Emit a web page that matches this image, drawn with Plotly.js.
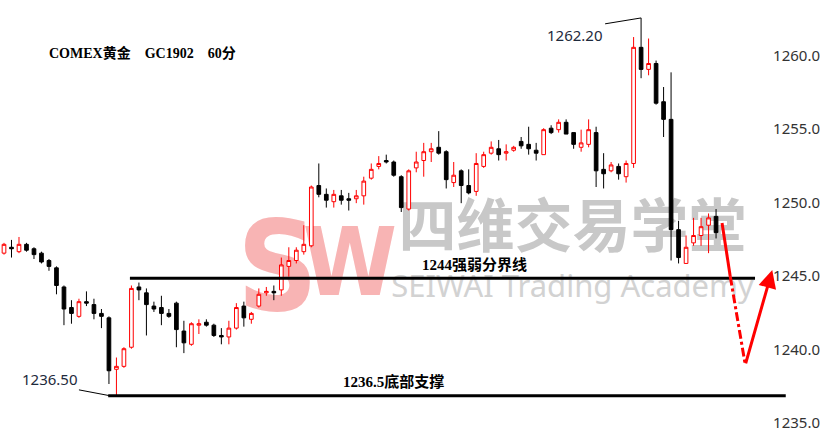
<!DOCTYPE html>
<html>
<head>
<meta charset="utf-8">
<script src="https://cdn.plot.ly/plotly-3.0.1.min.js"></script>
<style>html,body{margin:0;padding:0;background:#fff;}#chart{width:826px;height:435px;}</style>
</head>
<body>
<div id="chart"></div>
<script>
// COMEX gold GC1902, 60-minute candles
const opens = [1246.2,1246.6,1246.3,1246.8,1246.5,1246.2,1245.7,1245.2,1243.9,1242.5,
1241.9,1242.9,1242.7,1242.1,1241.8,1238.3,1238.5,1239.8,1243.9,1243.5,
1242.6,1242.5,1242.1,1242.8,1240.9,1240.0,1241.3,1241.5,1241.3,1240.6,
1240.5,1241.1,1242.6,1241.7,1242.6,1243.5,1243.6,1243.7,1245.3,1245.7,
1246.3,1246.7,1250.8,1250.2,1249.7,1250.1,1249.9,1249.9,1250.1,1251.3,
1252.1,1252.5,1252.4,1251.4,1249.2,1252.0,1252.5,1253.1,1253.4,1253.1,
1251.0,1251.8,1250.8,1250.4,1252.1,1253.0,1253.3,1253.0,1253.2,1253.8,
1253.6,1253.2,1252.9,1254.7,1254.6,1255.1,1254.4,1253.4,1253.6,1254.4,
1251.9,1251.8,1252.1,1251.4,1252.3,1260.2,1258.7,1259.1,1256.5,1255.3,
1247.8,1245.5,1246.9,1247.4,1248.1,1248.7];
const highs = [1246.9,1247.1,1247.3,1246.9,1246.6,1246.3,1245.8,1245.3,1244.0,1243.0,
1243.1,1243.6,1243.1,1242.4,1241.9,1239.1,1239.8,1244.0,1244.2,1243.8,
1242.9,1243.3,1242.4,1242.9,1241.6,1241.5,1241.7,1241.7,1241.4,1241.1,
1241.6,1242.8,1242.9,1242.2,1243.8,1243.9,1244.0,1245.9,1246.6,1246.6,
1248.1,1250.8,1252.3,1250.6,1250.5,1250.5,1250.3,1250.5,1251.4,1252.3,
1252.8,1252.9,1252.5,1251.5,1251.9,1253.1,1253.7,1253.7,1254.5,1253.2,
1252.4,1251.9,1251.9,1253.0,1253.1,1253.8,1253.9,1253.6,1253.5,1254.1,
1254.8,1253.7,1254.7,1254.9,1255.3,1255.3,1254.4,1254.6,1255.3,1254.8,
1253.0,1252.4,1252.3,1252.5,1260.9,1262.2,1260.8,1259.3,1257.5,1258.5,
1248.4,1247.4,1248.6,1248.6,1248.9,1249.2];
const lows = [1246.1,1245.9,1246.2,1246.3,1245.8,1245.5,1245.0,1243.4,1241.3,1241.4,
1241.8,1242.6,1241.7,1241.1,1237.3,1236.5,1238.4,1239.7,1243.0,1240.6,
1242.2,1241.3,1241.8,1239.8,1239.4,1239.9,1240.7,1241.2,1240.5,1240.0,
1240.0,1241.0,1241.2,1241.4,1242.5,1243.3,1243.0,1243.3,1244.6,1245.5,
1246.1,1246.6,1250.0,1249.3,1249.3,1249.5,1249.1,1249.6,1249.5,1251.2,
1251.9,1252.3,1251.4,1249.0,1249.1,1251.7,1251.4,1252.4,1252.9,1250.6,
1250.7,1249.6,1250.2,1250.1,1252.0,1252.9,1252.5,1252.5,1253.1,1253.3,
1252.9,1252.5,1252.9,1254.3,1254.4,1254.3,1253.3,1253.1,1253.4,1250.7,
1250.6,1251.7,1251.2,1251.0,1252.0,1258.1,1258.3,1256.3,1254.1,1245.7,
1245.5,1245.5,1246.7,1246.7,1246.2,1247.2];
const closes = [1246.8,1246.5,1246.8,1246.4,1246.1,1245.6,1245.3,1244.0,1242.4,1242.1,
1242.9,1242.8,1242.1,1241.9,1238.2,1238.5,1239.7,1243.8,1243.7,1242.7,
1242.4,1242.1,1241.9,1241.0,1240.1,1241.4,1241.4,1241.3,1240.6,1240.5,
1241.1,1242.5,1241.8,1242.1,1243.4,1243.6,1243.5,1245.4,1245.7,1246.4,
1246.8,1250.7,1250.2,1249.8,1250.2,1249.8,1249.8,1250.1,1251.1,1251.9,
1252.3,1252.4,1251.5,1249.3,1251.8,1252.4,1253.1,1253.3,1253.0,1251.2,
1251.5,1250.8,1250.3,1252.3,1252.9,1253.4,1252.9,1253.1,1253.4,1253.5,
1253.3,1253.0,1254.6,1254.4,1255.1,1254.3,1253.6,1253.7,1254.6,1251.8,
1251.6,1252.2,1251.6,1252.3,1260.2,1258.7,1259.1,1256.4,1255.3,1247.8,
1245.9,1246.6,1247.4,1248.0,1248.6,1247.6];
const bars = opens.map((_, i) => i);

const tickValues = [1235, 1240, 1245, 1250, 1255, 1260];
const pivotLevel = 1244.5;      // drawn "1244强弱分界线" line
const supportLevel = 1236.5;    // "1236.5底部支撑"
const peakBar = 85, lowBar = 15;
const projX = [95.8, 96.9, 98.9, 102.5];      // projected path (bar positions)
const projY = [1248.25, 1244.6, 1238.6, 1245.05];

const titleText = 'COMEX黄金\u00a0\u00a0\u00a0\u00a0GC1902\u00a0\u00a0\u00a0\u00a060分';

const trace = {
  type: 'candlestick', x: bars, open: opens, high: highs, low: lows, close: closes,
  increasing: {line: {color: '#ff0000', width: 1}, fillcolor: '#ffffff'},
  decreasing: {line: {color: '#000000', width: 1}, fillcolor: '#000000'},
  whiskerwidth: 0, hoverinfo: 'skip', showlegend: false
};

const serif = '"Liberation Serif", "Noto Sans CJK SC", serif';
const wm = (x0, x1, y0, y1, text, size, color, family, weight) => ({
  type: 'rect', layer: 'below', xref: 'x', yref: 'y', x0, x1, y0, y1,
  line: {width: 0}, fillcolor: 'rgba(0,0,0,0)',
  label: {text, textposition: 'middle center', font: {size, color, family, weight}}
});
const wmFont = '"DejaVu Sans Condensed", "Liberation Sans Narrow", "DejaVu Sans", sans-serif';

const layout = {
  width: 826, height: 435,
  margin: {l: 0, r: 0, t: 0, b: 0},
  paper_bgcolor: '#ffffff', plot_bgcolor: '#ffffff',
  showlegend: false, hovermode: false,
  xaxis: {range: [-0.534, 109.67], visible: false, rangeslider: {visible: false}, fixedrange: true},
  yaxis: {range: [1233.83, 1263.42], side: 'right', showgrid: false, zeroline: false,
          showline: false, ticks: '', tickvals: tickValues, tickformat: '.1f',
          ticklabelposition: 'inside', ticklabelshift: 5, ticklabelstandoff: 3,
          tickfont: {family: '"Noto Sans", sans-serif', size: 15, color: '#333333'}, fixedrange: true},
  shapes: [
    wm(32.8, 40.2, 1241.0, 1250.8, 'S', 125, '#f8b4b4', wmFont, 'bold'),
    wm(41.5, 50.8, 1242.3, 1249.8, 'W', 95, '#f8b4b4', wmFont, 'bold'),
    wm(52.2, 99.5, 1245.6, 1249.8, '四维交易学堂', 58, '#c8c8c8', '"Noto Sans CJK SC", sans-serif', 'bold'),
    wm(52.2, 99.5, 1242.9, 1244.9, 'SEIWAI Trading Academy', 31, '#d2d2d2', '"Noto Sans", sans-serif', 'normal'),
    {type: 'line', xref: 'x', yref: 'y', x0: 16.8, x1: 100.2, y0: pivotLevel, y1: pivotLevel,
     line: {color: '#000000', width: 3}},
    {type: 'line', xref: 'x', yref: 'y', x0: 13.9, x1: 104.3, y0: supportLevel, y1: supportLevel,
     line: {color: '#000000', width: 3}},
    {type: 'line', xref: 'x', yref: 'y', x0: 80.2, x1: peakBar, y0: 1261.8, y1: highs[peakBar],
     line: {color: '#000000', width: 1}},
    {type: 'line', xref: 'x', yref: 'y', x0: 10.0, x1: lowBar - 0.85, y0: 1236.9, y1: lows[lowBar],
     line: {color: '#000000', width: 1}},
    {type: 'line', xref: 'x', yref: 'y', x0: projX[0], x1: projX[1], y0: projY[0], y1: projY[1],
     line: {color: '#ff0000', width: 3}},
    {type: 'line', xref: 'x', yref: 'y', x0: projX[1], x1: projX[2], y0: projY[1], y1: projY[2],
     line: {color: '#ff0000', width: 3, dash: 'dashdot'}}
  ],
  annotations: [
    {xref: 'paper', yref: 'paper', x: 0.0569, y: 0.878, xanchor: 'left', yanchor: 'middle',
     text: titleText, showarrow: false, font: {family: serif, size: 14, color: '#000000', weight: 'bold'}},
    {xref: 'x', yref: 'y', x: 76.2, y: highs[peakBar] - 1.15, xanchor: 'center', yanchor: 'middle',
     text: highs[peakBar].toFixed(2), showarrow: false, font: {family: '"Noto Sans", sans-serif', size: 15, color: '#1e2a3c'}},
    {xref: 'x', yref: 'y', x: 6.1, y: lows[lowBar] + 1.15, xanchor: 'center', yanchor: 'middle',
     text: lows[lowBar].toFixed(2), showarrow: false, font: {family: '"Noto Sans", sans-serif', size: 15, color: '#1e2a3c'}},
    {xref: 'x', yref: 'y', x: 62.8, y: pivotLevel + 0.9, xanchor: 'center', yanchor: 'middle',
     text: '1244强弱分界线', showarrow: false, font: {family: serif, size: 15, color: '#000000', weight: 'bold'}},
    {xref: 'x', yref: 'y', x: 52.0, y: supportLevel + 1.0, xanchor: 'center', yanchor: 'middle',
     text: '1236.5底部支撑', showarrow: false, font: {family: serif, size: 15, color: '#000000', weight: 'bold'}},
    {xref: 'x', yref: 'y', axref: 'x', ayref: 'y', x: projX[3], y: projY[3], ax: projX[2], ay: projY[2],
     text: '', showarrow: true, arrowhead: 2, arrowsize: 1.2, arrowwidth: 3, arrowcolor: '#ff0000', standoff: 0}
  ]
};

Plotly.newPlot('chart', [trace], layout, {displayModeBar: false, staticPlot: true});
</script>
</body>
</html>
